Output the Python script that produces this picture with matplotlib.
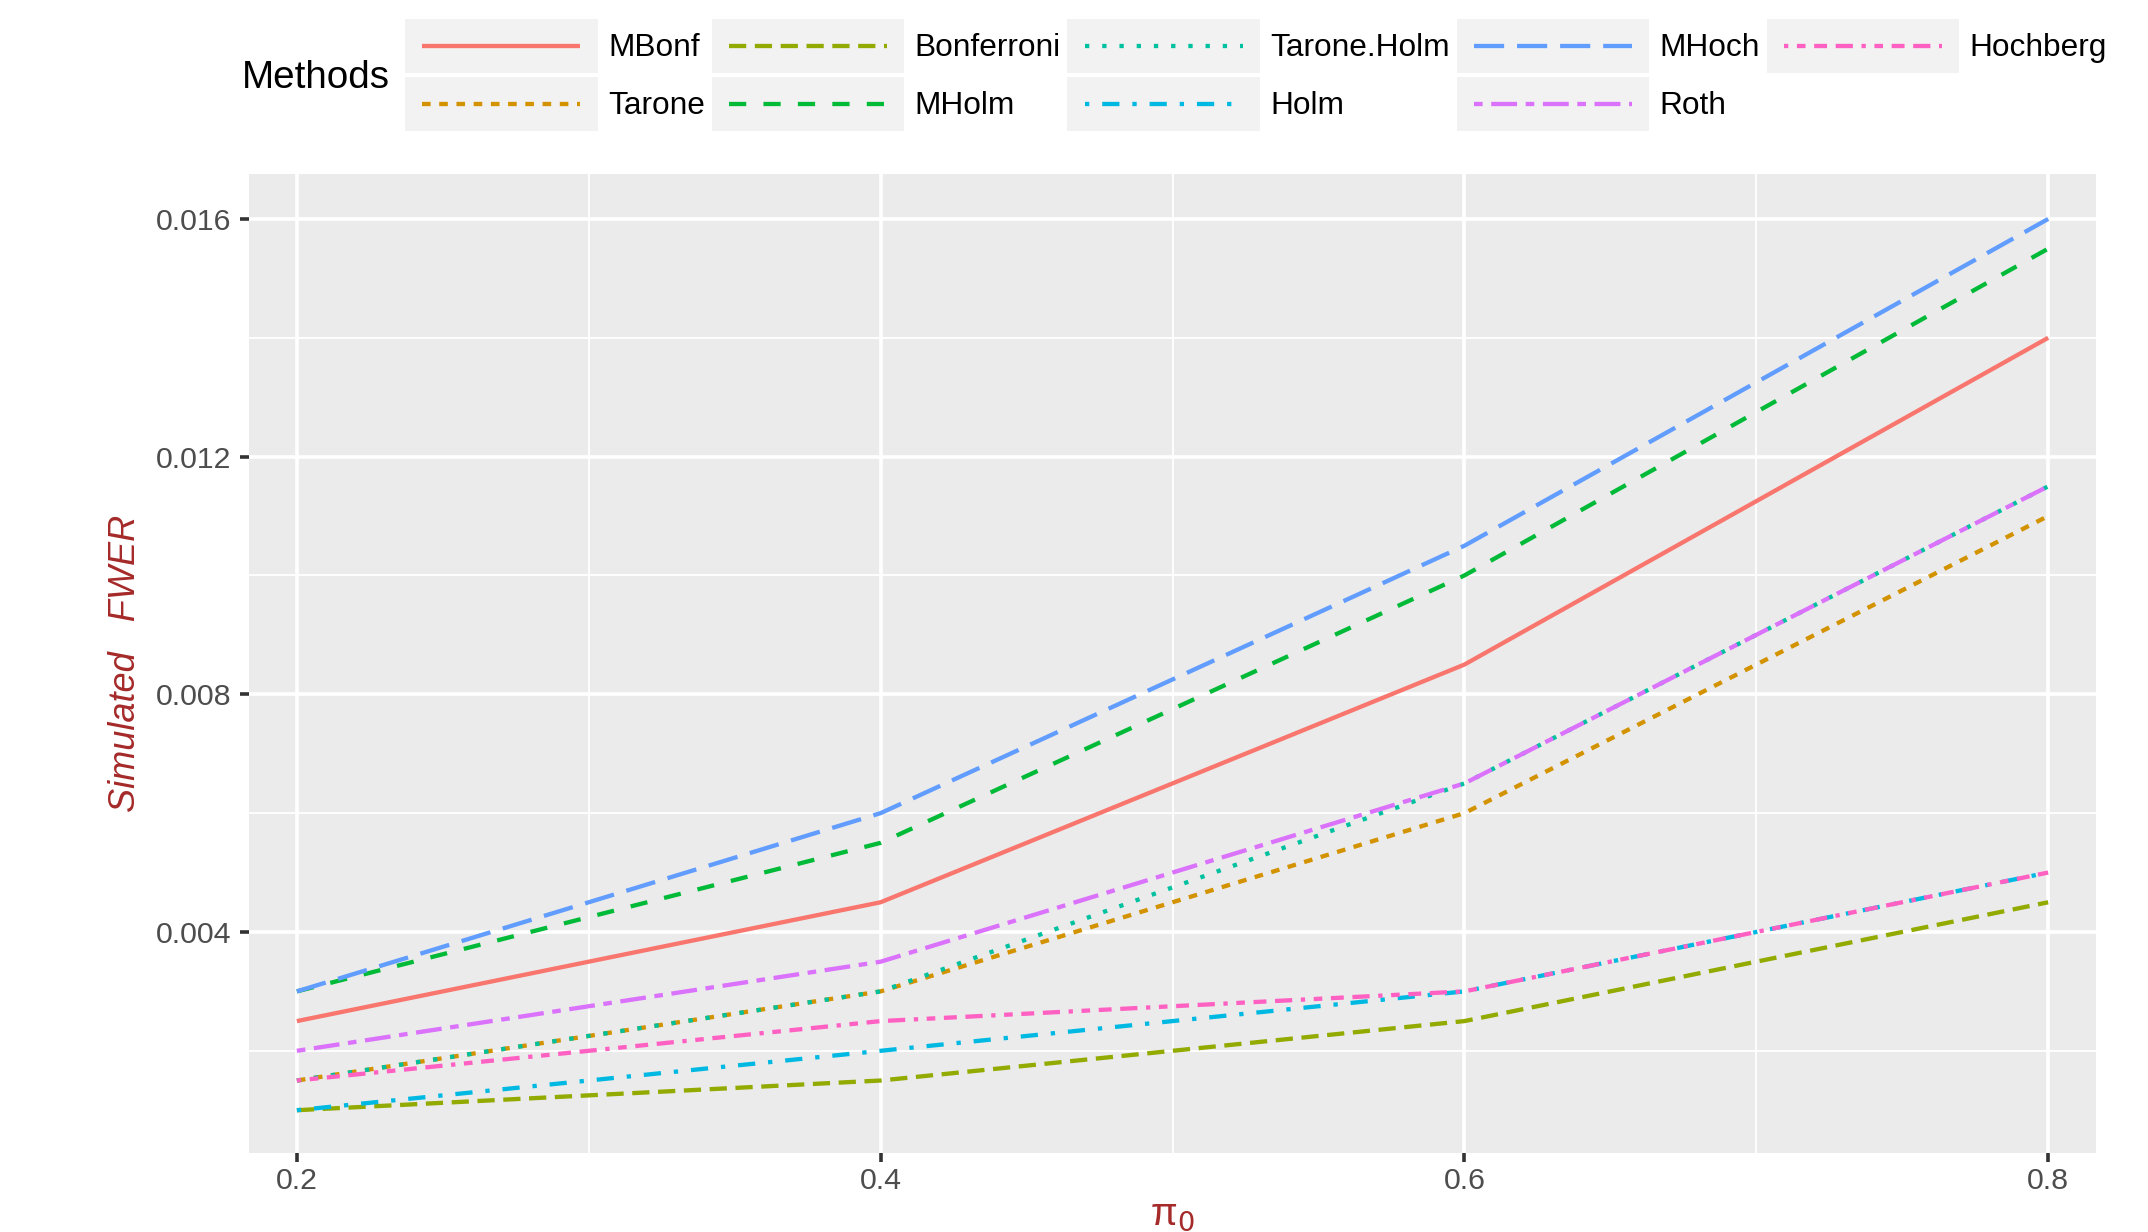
import matplotlib
matplotlib.use("Agg")
import matplotlib.pyplot as plt
from matplotlib.legend_handler import HandlerBase
from matplotlib.patches import Rectangle
from matplotlib.lines import Line2D

plt.rcParams['font.family'] = ['Liberation Sans', 'DejaVu Sans']

# ---- data ----
pi0 = [0.2, 0.4, 0.6, 0.8]
methods = ["MBonf", "Tarone", "Bonferroni", "MHolm", "Tarone.Holm",
           "Holm", "MHoch", "Roth", "Hochberg"]
MBonf = [0.0025, 0.0045, 0.0085, 0.0140]
Tarone = [0.0015, 0.0030, 0.0060, 0.0110]
Bonferroni = [0.0010, 0.0015, 0.0025, 0.0045]
MHolm = [0.0030, 0.0055, 0.0100, 0.0155]
TaroneHolm = [0.0015, 0.0030, 0.0065, 0.0115]
Holm = [0.0010, 0.0020, 0.0030, 0.0050]
MHoch = [0.0030, 0.0060, 0.0105, 0.0160]
Roth = [0.0020, 0.0035, 0.0065, 0.0115]
Hochberg = [0.0015, 0.0025, 0.0030, 0.0050]
series = [MBonf, Tarone, Bonferroni, MHolm, TaroneHolm, Holm, MHoch, Roth, Hochberg]
y_ticks = [0.004, 0.008, 0.012, 0.016]
x_ticks = [0.2, 0.4, 0.6, 0.8]

# ---- styles (ggplot hue palette + default linetypes) ----
colors = ["#F8766D", "#D39200", "#93AA00", "#00BA38", "#00C19F",
          "#00B9E3", "#619CFF", "#DB72FB", "#FF61C3"]
dashes = [None, (2, 2), (4, 2), (4, 4), (1, 3), (1, 3, 4, 3), (7, 3),
          (2, 2, 6, 2), (1, 2, 2, 2, 3, 2, 4, 2)]

W, H, DPI = 2148, 1232, 200
fig = plt.figure(figsize=(W / DPI, H / DPI), dpi=DPI)
ax = fig.add_axes([249 / W, 1 - 1153 / H, (2096 - 249) / W, (1153 - 174) / H])
ax.set_facecolor("#EBEBEB")
for s in ax.spines.values():
    s.set_visible(False)

LW = 1.55
handles = []
for name, vals, c, d in zip(methods, series, colors, dashes):
    ln, = ax.plot(pi0, vals, color=c, linewidth=LW, label=name,
                  solid_capstyle='butt', dash_capstyle='butt', zorder=3)
    if d is not None:
        ln.set_dashes(d)
    handles.append(ln)

ax.set_xlim(0.1836, 0.8164)
ax.set_ylim(0.00028, 0.016757)
ax.set_xticks(x_ticks)
ax.set_xticklabels([f"{v:g}" for v in x_ticks])
ax.set_yticks(y_ticks)
ax.set_yticklabels([f"{v:.3f}" for v in y_ticks])
ax.set_xticks([0.3, 0.5, 0.7], minor=True)
ax.set_yticks([0.002, 0.006, 0.010, 0.014], minor=True)
ax.grid(which='major', color='white', linewidth=1.3, zorder=1)
ax.grid(which='minor', color='white', linewidth=0.65, zorder=1)
ax.set_axisbelow(True)
ax.tick_params(which='major', length=3.2, width=1.3, color='#333333',
               labelsize=10.9, labelcolor='#4D4D4D', pad=3.2)
ax.tick_params(axis='x', which='major', pad=2.0)
ax.tick_params(which='minor', length=0)

ax.set_ylabel("Simulated   FWER", fontsize=13, style='italic', color='#A52A2A',
              labelpad=4.5)
ax.set_xlabel(r"π$_0$", fontsize=14, color='#A52A2A', labelpad=0.5)


class KeyHandler(HandlerBase):
    def create_artists(self, legend, orig_handle, xdescent, ydescent,
                       width, height, fontsize, trans):
        rect = Rectangle((-xdescent, -ydescent), width, height,
                         facecolor='#F2F2F2', edgecolor='none', transform=trans)
        pad = 0.09 * width
        y = -ydescent + height / 2
        line = Line2D([-xdescent + pad, -xdescent + width - pad], [y, y])
        line.update_from(orig_handle)
        line.set_transform(trans)
        line.set_clip_on(False)
        line.set_clip_box(None)
        line.set_clip_path(None)
        return [rect, line]


fs = 11.4
leg = fig.legend(handles=handles, labels=methods, ncol=5, loc='upper left',
                 bbox_to_anchor=(405 / W, 1 - 19 / H), bbox_transform=fig.transFigure,
                 frameon=False, fontsize=fs, borderpad=0, borderaxespad=0,
                 handlelength=6.09, handleheight=2.24, handletextpad=0.32,
                 columnspacing=0.21, labelspacing=0.13,
                 handler_map={Line2D: KeyHandler()})
fig.text(242 / W, 1 - 78 / H, "Methods", fontsize=13.9, ha='left', va='center')

fig.savefig("out.png", dpi=DPI)
